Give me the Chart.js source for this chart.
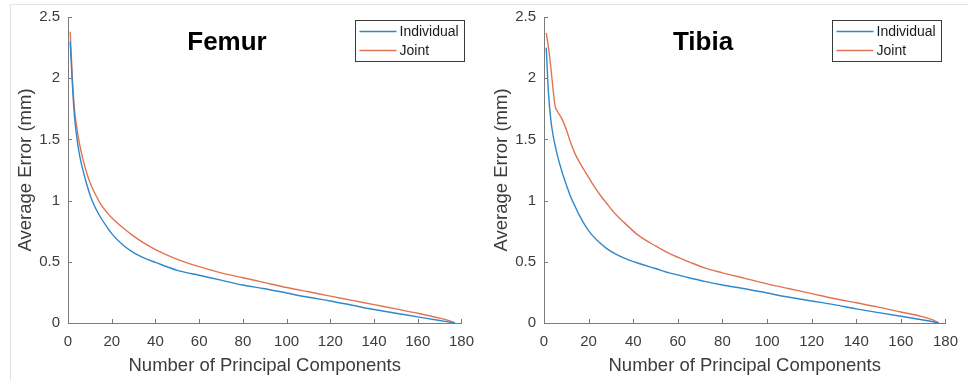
<!DOCTYPE html>
<html>
<head>
<meta charset="utf-8">
<script src="https://cdn.jsdelivr.net/npm/chart.js@4.4.1/dist/chart.umd.min.js"></script>
<style>
  html, body { margin: 0; padding: 0; background: #ffffff; }
  #wrap { position: relative; width: 968px; height: 381px; overflow: hidden; }
  #frame { position: absolute; left: 10px; top: 4px; width: 960px; height: 400px;
           border-top: 1px solid #e4e4e4; border-left: 1px solid #e4e4e4; }
  canvas { position: absolute; top: 0; }
  #femurCanvas { left: 0; }
  #tibiaCanvas { left: 484px; }
</style>
</head>
<body>
<div id="wrap">
  <div id="frame"></div>
  <canvas id="femurCanvas" width="484" height="381"></canvas>
  <canvas id="tibiaCanvas" width="484" height="381"></canvas>
</div>
<script>
// Number of principal components retained, with the average error for each model
const femurComponents = [1, 2, 3, 4, 5, 6, 8, 10, 12, 15, 18, 20, 25, 30, 35, 40, 50, 60, 70, 80, 90, 100, 110, 120, 130, 140, 150, 160, 170, 175, 177];
const femurIndividual = [2.30, 1.95, 1.68, 1.52, 1.40, 1.31, 1.17, 1.05, 0.96, 0.86, 0.78, 0.73, 0.64, 0.575, 0.53, 0.495, 0.43, 0.39, 0.35, 0.31, 0.28, 0.245, 0.21, 0.18, 0.145, 0.11, 0.08, 0.05, 0.02, 0.006, 0];
const femurJoint      = [2.38, 2.00, 1.74, 1.60, 1.49, 1.40, 1.26, 1.15, 1.07, 0.97, 0.90, 0.86, 0.78, 0.71, 0.65, 0.60, 0.52, 0.46, 0.41, 0.37, 0.33, 0.29, 0.255, 0.22, 0.185, 0.15, 0.115, 0.08, 0.04, 0.015, 0];

const tibiaComponents = [1, 2, 3, 4, 5, 6, 8, 10, 12, 14, 16, 18, 20, 22, 25, 28, 32, 36, 42, 50, 57, 65, 72, 80, 90, 100, 110, 120, 130, 140, 150, 160, 170, 175, 177];
const tibiaIndividual = [2.25, 1.88, 1.67, 1.54, 1.45, 1.37, 1.24, 1.13, 1.03, 0.95, 0.875, 0.81, 0.755, 0.71, 0.655, 0.61, 0.565, 0.53, 0.49, 0.445, 0.405, 0.37, 0.34, 0.31, 0.28, 0.245, 0.21, 0.18, 0.15, 0.115, 0.085, 0.055, 0.025, 0.008, 0];
const tibiaJoint      = [2.37, 2.25, 2.10, 1.92, 1.77, 1.73, 1.67, 1.58, 1.47, 1.38, 1.31, 1.25, 1.19, 1.13, 1.05, 0.98, 0.89, 0.82, 0.72, 0.63, 0.56, 0.50, 0.45, 0.41, 0.365, 0.32, 0.28, 0.24, 0.20, 0.165, 0.13, 0.09, 0.05, 0.02, 0];

const seriesNames = ['Individual', 'Joint'];
const seriesColors = ['#2f88cb', '#e07450'];

const xTicks = [0, 20, 40, 60, 80, 100, 120, 140, 160, 180];
const yTicks = [0, 0.5, 1, 1.5, 2, 2.5];

const FONT = '"Liberation Sans", Arial, Helvetica, sans-serif';
const AXIS_COLOR = '#7b7b7b';
const TEXT_COLOR = '#3c3c3c';

function toPoints(xs, ys) {
  return xs.map((x, i) => ({ x: x, y: ys[i] }));
}

// Inward tick marks, panel title, axis titles and the boxed legend
const panelDecor = {
  id: 'panelDecor',
  afterDraw(chart, args, opts) {
    const ctx = chart.ctx;
    const area = chart.chartArea;
    const xs = chart.scales.x, ys = chart.scales.y;
    ctx.save();
    ctx.strokeStyle = AXIS_COLOR;
    ctx.lineWidth = 1;
    ctx.beginPath();
    xTicks.forEach(v => {
      const px = Math.round(xs.getPixelForValue(v)) + 0.5;
      ctx.moveTo(px, area.bottom);
      ctx.lineTo(px, area.bottom - 4);
    });
    yTicks.forEach(v => {
      const py = Math.round(ys.getPixelForValue(v)) + 0.5;
      ctx.moveTo(area.left, py);
      ctx.lineTo(area.left + 4, py);
    });
    ctx.stroke();

    // panel title
    ctx.fillStyle = '#000000';
    ctx.font = 'bold 26px ' + FONT;
    ctx.textAlign = 'center';
    ctx.textBaseline = 'alphabetic';
    ctx.fillText(opts.title, opts.titleX, 50);

    // axis titles
    ctx.fillStyle = TEXT_COLOR;
    ctx.font = '18.5px ' + FONT;
    ctx.textBaseline = 'middle';
    ctx.fillText('Number of Principal Components', (area.left + area.right) / 2, 366);
    ctx.save();
    ctx.translate(area.left - 42, (area.top + area.bottom) / 2);
    ctx.rotate(-Math.PI / 2);
    ctx.fillText('Average Error (mm)', 0, 0);
    ctx.restore();

    // legend box
    const lx = opts.legendX, ly = 20.5, lw = 109, lh = 41;
    ctx.fillStyle = '#ffffff';
    ctx.fillRect(lx, ly, lw, lh);
    ctx.strokeStyle = '#3a3a3a';
    ctx.lineWidth = 1;
    ctx.strokeRect(lx, ly, lw, lh);
    ctx.font = '14px ' + FONT;
    ctx.textAlign = 'left';
    chart.data.datasets.forEach((ds, i) => {
      const y = ly + 11 + i * 19;
      ctx.strokeStyle = ds.borderColor;
      ctx.lineWidth = 1.3;
      ctx.beginPath();
      ctx.moveTo(lx + 4, y);
      ctx.lineTo(lx + 41, y);
      ctx.stroke();
      ctx.fillStyle = '#1a1a1a';
      ctx.fillText(ds.label, lx + 44, y + 0.5);
    });
    ctx.restore();
  }
};

function makePanel(canvasId, comps, indiv, joint, axisWidth, padRight, decor) {
  return new Chart(document.getElementById(canvasId), {
    type: 'line',
    data: {
      datasets: [
        { label: seriesNames[0], data: toPoints(comps, indiv), borderColor: seriesColors[0] },
        { label: seriesNames[1], data: toPoints(comps, joint), borderColor: seriesColors[1] }
      ]
    },
    options: {
      responsive: false,
      animation: false,
      devicePixelRatio: 1,
      layout: { padding: { left: 0, top: 10, right: padRight, bottom: 0 } },
      elements: {
        point: { radius: 0 },
        line: { borderWidth: 1.4, cubicInterpolationMode: 'monotone', fill: false }
      },
      plugins: {
        legend: { display: false },
        tooltip: { enabled: false },
        panelDecor: decor
      },
      scales: {
        x: {
          type: 'linear', min: 0, max: 180,
          afterBuildTicks: s => { s.ticks = xTicks.map(v => ({ value: v })); },
          afterFit: s => { s.height = 58; },
          grid: { display: false, drawTicks: false },
          border: { display: true, color: AXIS_COLOR, width: 1 },
          ticks: { padding: 10, color: TEXT_COLOR, font: { family: FONT, size: 15 }, maxRotation: 0,
                   callback: v => String(v) }
        },
        y: {
          type: 'linear', min: 0, max: 2.5,
          afterBuildTicks: s => { s.ticks = yTicks.map(v => ({ value: v })); },
          afterFit: s => { s.width = axisWidth; },
          grid: { display: false, drawTicks: false },
          border: { display: true, color: AXIS_COLOR, width: 1 },
          ticks: { padding: 8, color: TEXT_COLOR, font: { family: FONT, size: 15 },
                   callback: v => String(v) }
        }
      }
    },
    plugins: [panelDecor]
  });
}

makePanel('femurCanvas', femurComponents, femurIndividual, femurJoint, 68, 14,
  { title: 'Femur', titleX: 227, legendX: 355.5 });
makePanel('tibiaCanvas', tibiaComponents, tibiaIndividual, tibiaJoint, 60, 16,
  { title: 'Tibia', titleX: 219, legendX: 348.5 });
</script>
</body>
</html>
